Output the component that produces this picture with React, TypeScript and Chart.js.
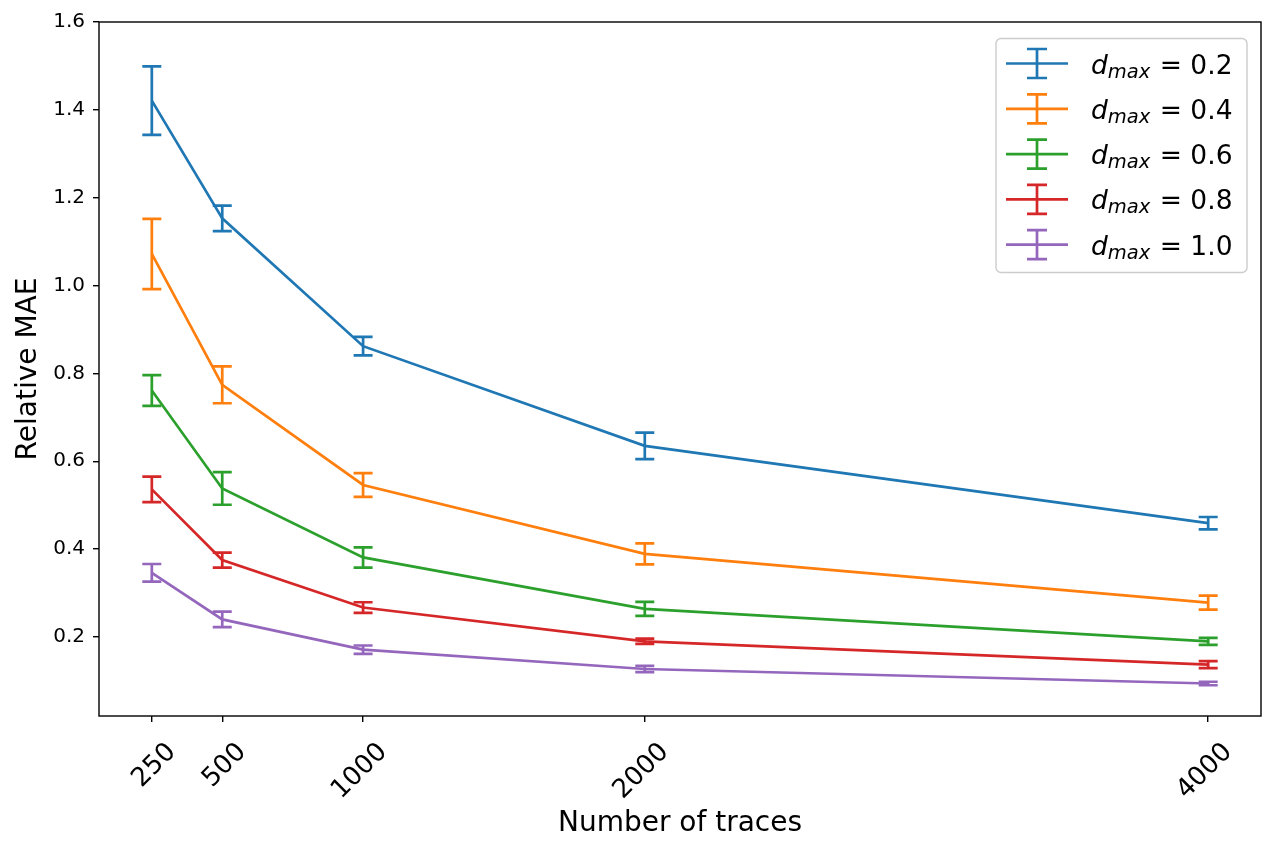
import { useEffect, useRef } from 'react';
import { Chart, registerables } from 'chart.js';

Chart.register(...registerables);

const traces = [250, 500, 1000, 2000, 4000];
const dmaxLabels = ['0.2', '0.4', '0.6', '0.8', '1.0'];
const colors = ['#1f77b4', '#ff7f0e', '#2ca02c', '#d62728', '#9467bd'];

const mae02 = [1.421, 1.153, 0.862, 0.635, 0.459];
const err02 = [0.078, 0.029, 0.021, 0.030, 0.014];
const mae04 = [1.072, 0.774, 0.546, 0.389, 0.278];
const err04 = [0.080, 0.042, 0.027, 0.024, 0.016];
const mae06 = [0.761, 0.538, 0.381, 0.264, 0.190];
const err06 = [0.035, 0.037, 0.023, 0.016, 0.008];
const mae08 = [0.536, 0.375, 0.267, 0.190, 0.137];
const err08 = [0.029, 0.017, 0.012, 0.006, 0.008];
const mae10 = [0.346, 0.240, 0.171, 0.127, 0.094];
const err10 = [0.020, 0.0175, 0.0095, 0.007, 0.004];

const yTicks = [0.2, 0.4, 0.6, 0.8, 1.0, 1.2, 1.4, 1.6];

const series = [mae02, mae04, mae06, mae08, mae10];
const errors = [err02, err04, err06, err08, err10];

const FONT = '"DejaVu Sans", sans-serif';
const LW = 2.7;

// error bars, drawn from the same scales as the lines
const errorBars = {
    id: 'errorBars',
    afterDatasetsDraw(chart: any) {
        const { ctx, chartArea, scales } = chart;
        ctx.save();
        ctx.beginPath();
        ctx.rect(chartArea.left, chartArea.top, chartArea.right - chartArea.left, chartArea.bottom - chartArea.top);
        ctx.clip();
        ctx.lineWidth = LW;
        ctx.lineCap = 'butt';
        errors.forEach((errs, i) => {
            ctx.strokeStyle = colors[i];
            errs.forEach((e, j) => {
                const x = scales.x.getPixelForValue(traces[j]);
                const yt = scales.y.getPixelForValue(series[i][j] + e);
                const yb = scales.y.getPixelForValue(series[i][j] - e);
                ctx.beginPath();
                ctx.moveTo(x, yt);
                ctx.lineTo(x, yb);
                ctx.moveTo(x - 9.5, yt);
                ctx.lineTo(x + 9.5, yt);
                ctx.moveTo(x - 9.5, yb);
                ctx.lineTo(x + 9.5, yb);
                ctx.stroke();
            });
        });
        ctx.restore();
    }
};

// axes frame + matplotlib style legend
const frameAndLegend = {
    id: 'frameAndLegend',
    afterDraw(chart: any) {
        const { ctx, chartArea } = chart;
        ctx.save();
        ctx.strokeStyle = '#000';
        ctx.lineWidth = 1.4;
        ctx.strokeRect(chartArea.left, chartArea.top, chartArea.right - chartArea.left, chartArea.bottom - chartArea.top);

        const w = 251;
        const h = 234;
        const left = chartArea.right - 14 - w;
        const top = chartArea.top + 16.5;
        ctx.beginPath();
        ctx.roundRect(left, top, w, h, 5);
        ctx.fillStyle = 'rgba(255,255,255,0.8)';
        ctx.fill();
        ctx.strokeStyle = '#cccccc';
        ctx.lineWidth = 1.4;
        ctx.stroke();

        dmaxLabels.forEach((lab, i) => {
            const cy = top + 25 + i * 45.3;
            ctx.strokeStyle = colors[i];
            ctx.lineWidth = LW;
            ctx.beginPath();
            ctx.moveTo(left + 10, cy);
            ctx.lineTo(left + 72, cy);
            const ex = left + 41;
            ctx.moveTo(ex, cy - 14.5);
            ctx.lineTo(ex, cy + 14.5);
            ctx.moveTo(ex - 10, cy - 14.5);
            ctx.lineTo(ex + 10, cy - 14.5);
            ctx.moveTo(ex - 10, cy + 14.5);
            ctx.lineTo(ex + 10, cy + 14.5);
            ctx.stroke();

            const base = cy + 10;
            let x = left + 95;
            ctx.fillStyle = '#000';
            ctx.textBaseline = 'alphabetic';
            ctx.textAlign = 'left';
            ctx.font = `italic 26.5px ${FONT}`;
            ctx.fillText('d', x, base);
            x += ctx.measureText('d').width;
            ctx.font = `italic 19.5px ${FONT}`;
            ctx.fillText('max', x, base + 4);
            x += ctx.measureText('max').width + 1;
            ctx.font = `26.5px ${FONT}`;
            ctx.fillText(' = ' + lab, x, base);
        });
        ctx.restore();
    }
};

export default function App() {
    const canvas = useRef<HTMLCanvasElement>(null);

    useEffect(() => {
        Chart.defaults.color = '#000000';
        Chart.defaults.font.family = FONT;

        const chart = new Chart(canvas.current as HTMLCanvasElement, {
            type: 'line',
            data: {
                datasets: series.map((vals, i) => ({
                    label: 'd_max = ' + dmaxLabels[i],
                    data: vals.map((v, j) => ({ x: traces[j], y: v })),
                    borderColor: colors[i],
                    backgroundColor: colors[i],
                    borderWidth: LW,
                    pointRadius: 0,
                    tension: 0,
                    fill: false,
                    order: -i
                }))
            },
            options: {
                animation: false,
                responsive: false,
                maintainAspectRatio: false,
                layout: { padding: { left: 0, top: 22, right: 15, bottom: 0 } },
                plugins: {
                    legend: { display: false },
                    tooltip: { enabled: false }
                },
                scales: {
                    x: {
                        type: 'linear',
                        min: 62.5,
                        max: 4187.5,
                        afterBuildTicks: (s: any) => {
                            s.ticks = traces.map(v => ({ value: v }));
                        },
                        afterFit: (s: any) => {
                            s.height = 138;
                        },
                        border: { display: false },
                        grid: {
                            drawOnChartArea: false,
                            drawTicks: true,
                            tickLength: 6,
                            lineWidth: 1.4,
                            color: '#000'
                        },
                        ticks: {
                            autoSkip: false,
                            minRotation: 45,
                            maxRotation: 45,
                            labelOffset: 20,
                            padding: 15,
                            font: { size: 26 },
                            callback: (v: any) => String(v)
                        },
                        title: {
                            display: true,
                            text: 'Number of traces',
                            font: { size: 28 },
                            padding: { top: 0, bottom: 13 }
                        }
                    },
                    y: {
                        type: 'linear',
                        min: 0.02,
                        max: 1.6,
                        afterBuildTicks: (s: any) => {
                            s.ticks = yTicks.map(v => ({ value: v }));
                        },
                        afterFit: (s: any) => {
                            s.width = 99;
                        },
                        border: { display: false },
                        grid: {
                            drawOnChartArea: false,
                            drawTicks: true,
                            tickLength: 6,
                            lineWidth: 1.4,
                            color: '#000'
                        },
                        ticks: {
                            padding: 8,
                            font: { size: 20 },
                            callback: (v: any) => Number(v).toFixed(1)
                        },
                        title: {
                            display: true,
                            text: 'Relative MAE',
                            font: { size: 28 },
                            padding: { top: 12, bottom: 0 }
                        }
                    }
                }
            },
            plugins: [errorBars, frameAndLegend]
        });

        return () => {
            chart.destroy();
        };
    }, []);

    return (
        <div style={{ position: 'absolute', left: 0, top: 0, width: 1276, height: 854, background: '#fff' }}>
            <canvas ref={canvas} width={1276} height={854} style={{ width: 1276, height: 854 }} />
        </div>
    );
}
